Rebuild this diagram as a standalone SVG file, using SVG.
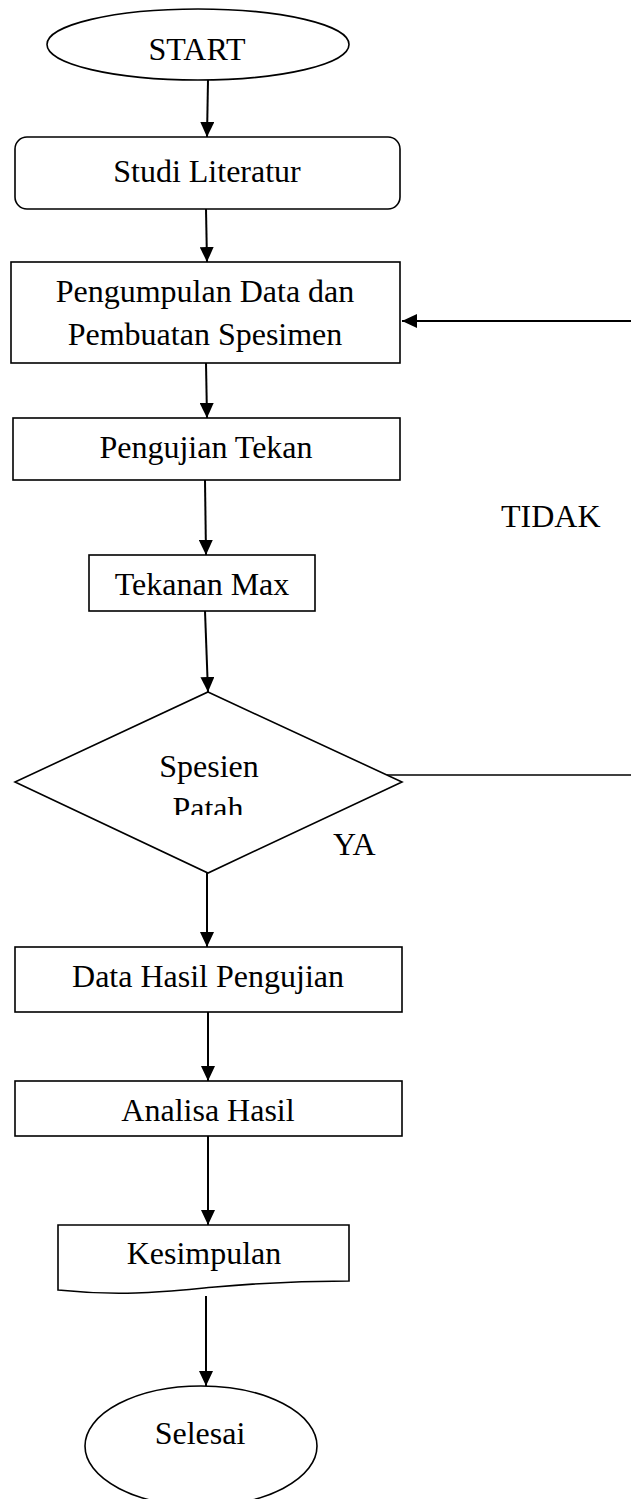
<svg xmlns="http://www.w3.org/2000/svg" width="631" height="1499" viewBox="0 0 631 1499">
<style>
.shape{fill:#fff;stroke:#000;stroke-width:1.6}
.conn{fill:none;stroke:#000;stroke-width:2}
.line{fill:none;stroke:#000;stroke-width:1.6}
text{font-family:"Liberation Serif","Times New Roman",serif;font-size:32px;fill:#000}
.c{text-anchor:middle}
</style>
<defs>
<marker id="ah" viewBox="0 0 15 14" refX="15" refY="7" markerWidth="15" markerHeight="14" markerUnits="userSpaceOnUse" orient="auto">
<path d="M0,0 L15,7 L0,14 Z" fill="#000"/>
</marker>
<clipPath id="clipPatah"><rect x="150" y="760" width="120" height="55"/></clipPath>
</defs>
<rect width="631" height="1499" fill="#fff"/>
<g id="connectors">
<line class="conn" x1="208" y1="80" x2="207" y2="137" marker-end="url(#ah)"/>
<line class="conn" x1="206" y1="209" x2="207" y2="262" marker-end="url(#ah)"/>
<line class="conn" x1="206" y1="363" x2="207" y2="418" marker-end="url(#ah)"/>
<line class="conn" x1="205" y1="480" x2="206" y2="555" marker-end="url(#ah)"/>
<line class="conn" x1="205" y1="611" x2="208" y2="692" marker-end="url(#ah)"/>
<line class="conn" x1="207" y1="873" x2="207" y2="947" marker-end="url(#ah)"/>
<line class="conn" x1="208" y1="1012" x2="208" y2="1081" marker-end="url(#ah)"/>
<line class="conn" x1="208" y1="1136" x2="208" y2="1225" marker-end="url(#ah)"/>
<line class="conn" x1="206" y1="1296" x2="206" y2="1386" marker-end="url(#ah)"/>
<line class="line" x1="387" y1="775" x2="631" y2="775"/>
<line class="conn" x1="631" y1="321" x2="402" y2="321" marker-end="url(#ah)"/>
<text x="501" y="527">TIDAK</text>
<text x="333" y="855">YA</text>
</g>
<g id="start">
<ellipse class="shape" cx="198" cy="44.5" rx="151" ry="35.5"/>
<text class="c" x="197" y="60">START</text>
</g>
<g id="studi">
<rect class="shape" x="15" y="137" width="385" height="72" rx="12"/>
<text class="c" x="207" y="182">Studi Literatur</text>
</g>
<g id="pengumpulan">
<rect class="shape" x="11" y="262" width="389" height="101"/>
<text class="c" x="205" y="302">Pengumpulan Data dan</text>
<text class="c" x="205" y="345">Pembuatan Spesimen</text>
</g>
<g id="pengujian">
<rect class="shape" x="13" y="418" width="387" height="62"/>
<text class="c" x="206" y="458">Pengujian Tekan</text>
</g>
<g id="tekanan">
<rect class="shape" x="89" y="555" width="226" height="56"/>
<text class="c" x="202" y="595">Tekanan Max</text>
</g>
<g id="keputusan">
<polygon class="shape" points="208,692 402,782 208,873 15,782"/>
<text class="c" x="209" y="777">Spesien</text>
<text class="c" x="208" y="819" clip-path="url(#clipPatah)">Patah</text>
</g>
<g id="datahasil">
<rect class="shape" x="15" y="947" width="387" height="65"/>
<text class="c" x="208" y="987">Data Hasil Pengujian</text>
</g>
<g id="analisa">
<rect class="shape" x="15" y="1081" width="387" height="55"/>
<text class="c" x="208" y="1121">Analisa Hasil</text>
</g>
<g id="kesimpulan">
<path class="shape" d="M58,1225 H349 V1281 C300,1281 260,1283 215,1287 C170,1291 125,1297 58,1290 Z"/>
<text class="c" x="204" y="1264">Kesimpulan</text>
</g>
<g id="selesai">
<ellipse class="shape" cx="201" cy="1446" rx="116" ry="60"/>
<text class="c" x="200" y="1444">Selesai</text>
</g>
</svg>
